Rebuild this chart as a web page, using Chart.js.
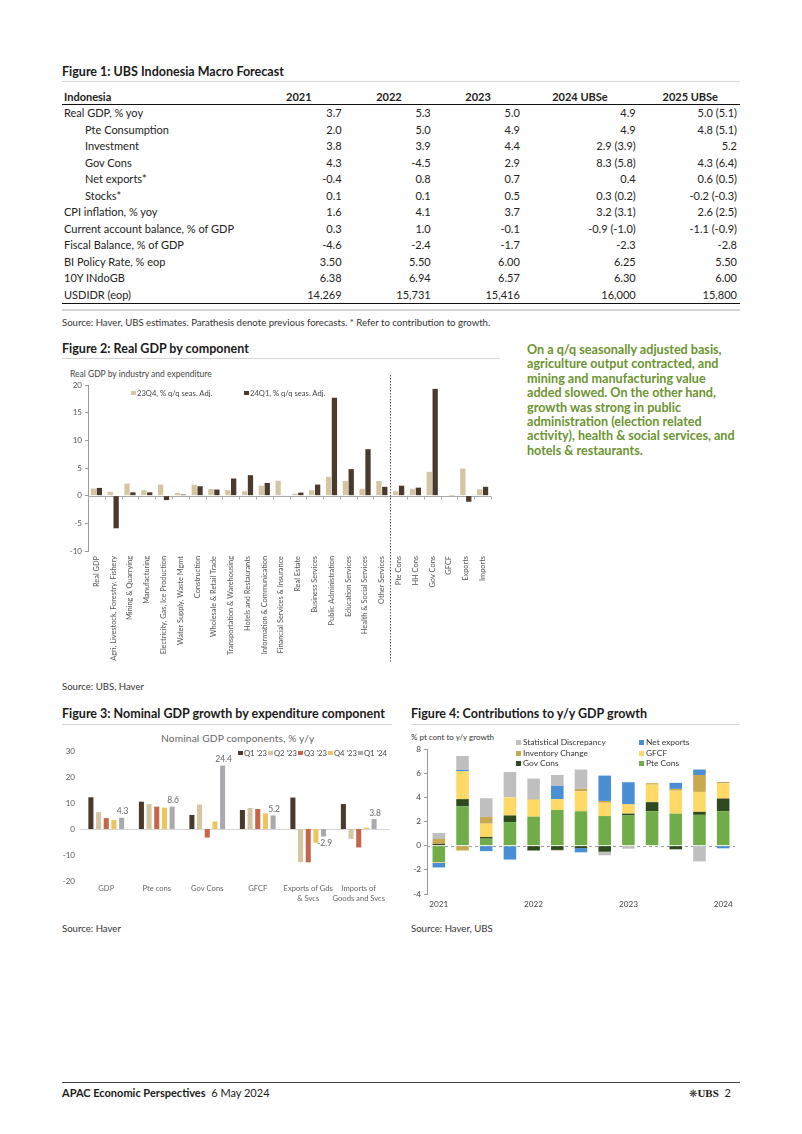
<!DOCTYPE html>
<html>
<head>
<meta charset="utf-8">
<script src="https://cdn.jsdelivr.net/npm/chart.js@4.4.1/dist/chart.umd.min.js"></script>
<style>
  html, body { margin: 0; padding: 0; background: #fff; }
  body { width: 802px; height: 1134px; position: relative; overflow: hidden;
         font-family: Lato, 'Noto Sans', sans-serif; color: #1a1a1a; }
  .abs { position: absolute; white-space: nowrap; }
  .title { font-weight: bold; font-size: 12.5px; line-height: 14px; }
  .rule { position: absolute; height: 0; border-top: 1.5px solid #d4d4d4; }
  .src { font-size: 9.6px; line-height: 11px; color: #333; }
  .sub { font-size: 8.5px; line-height: 10px; color: #444; }
  .leg { font-size: 7.6px; line-height: 9px; color: #444; }
  .leg i { display: inline-block; width: 4.5px; height: 4.5px; margin-right: 1.5px; vertical-align: 1px; }
  canvas { position: absolute; }
  #tbl { position: absolute; left: 62px; top: 89px; width: 678px; border-collapse: collapse;
         font-size: 11px; color: #222; }
  #tbl td, #tbl th { padding: 0; white-space: nowrap; }
  #tbl th { height: 15px; line-height: 15px; font-weight: bold; text-align: right; border-bottom: 1.6px solid #111; }
  #tbl td { height: 16.5px; line-height: 16.5px; text-align: right; }
  #tbl tr:last-child td { border-bottom: 1.6px solid #111; }
  #tbl th:first-child, #tbl td:first-child { text-align: left; padding-left: 2px; }
  .note { position: absolute; left: 527px; top: 343px; font-size: 12.6px; line-height: 14.4px;
          font-weight: bold; color: #6b9430; white-space: nowrap; }
</style>
</head>
<body>

<!-- ---------- Figure 1: table ---------- -->
<div class="abs title" style="left:62px;top:65px;">Figure 1: UBS Indonesia Macro Forecast</div>
<div class="rule" style="left:62px;top:81px;width:678px;"></div>
<table id="tbl"></table>
<div class="rule" style="left:62px;top:309px;width:678px;border-top-width:2px;"></div>
<div class="abs src" style="left:62px;top:317px;">Source: Haver, UBS estimates. Parathesis denote previous forecasts. * Refer to contribution to growth.</div>

<!-- ---------- Figure 2 ---------- -->
<div class="abs title" style="left:62px;top:342px;">Figure 2: Real GDP by component</div>
<div class="rule" style="left:62px;top:358px;width:438px;"></div>
<div class="abs sub" style="left:70px;top:369px;">Real GDP by industry and expenditure</div>
<canvas id="fig2" width="445" height="300" style="left:60px;top:370px;"></canvas>
<div id="leg2"></div>
<div class="abs src" style="left:62px;top:681px;">Source: UBS, Haver</div>

<div class="note">On a q/q seasonally adjusted basis,<br>agriculture output contracted, and<br>mining and manufacturing value<br>added slowed. On the other hand,<br>growth was strong in public<br>administration (election related<br>activity), health &amp; social services, and<br>hotels &amp; restaurants.</div>

<!-- ---------- Figure 3 ---------- -->
<div class="abs title" style="left:62px;top:707px;">Figure 3: Nominal GDP growth by expenditure component</div>
<div class="rule" style="left:62px;top:724px;width:330px;"></div>
<div class="abs sub" style="left:161px;top:732px;font-size:10.2px;line-height:12px;letter-spacing:0.15px;color:#666;">Nominal GDP components, % y/y</div>
<canvas id="fig3" width="335" height="175" style="left:60px;top:735px;"></canvas>
<div id="leg3"></div>
<div class="abs src" style="left:62px;top:923px;">Source: Haver</div>

<!-- ---------- Figure 4 ---------- -->
<div class="abs title" style="left:411px;top:707px;">Figure 4: Contributions to y/y GDP growth</div>
<div class="rule" style="left:411px;top:724px;width:329px;"></div>
<div class="abs sub" style="left:411px;top:732px;font-size:8px;color:#333;">% pt cont to y/y growth</div>
<canvas id="fig4" width="335" height="180" style="left:405px;top:735px;"></canvas>
<div id="leg4"></div>
<div class="abs src" style="left:411px;top:923px;">Source: Haver, UBS</div>

<!-- ---------- footer ---------- -->
<div style="position:absolute;left:62px;top:1082px;width:678px;border-top:1px solid #444;"></div>
<div class="abs" style="left:62px;top:1086px;font-size:11px;line-height:14px;"><b>APAC Economic Perspectives</b>&nbsp; 6 May 2024</div>
<div class="abs" style="left:689px;top:1086px;font-size:11px;line-height:14px;"><span style="font-family:'DejaVu Sans';font-size:10px;color:#333;">❋</span><span style="font-family:'Liberation Serif';font-weight:bold;">UBS</span>&nbsp; 2</div>

<script>
// --- TABLE DATA (Figure 1) ---
const tableHeaders = ['Indonesia', '2021', '2022', '2023', '2024 UBSe', '2025 UBSe'];
const tableLabels = ['Real GDP, % yoy', 'Pte Consumption', 'Investment', 'Gov Cons', 'Net exports*', 'Stocks*',
  'CPI inflation, % yoy', 'Current account balance, % of GDP', 'Fiscal Balance, % of GDP',
  'BI Policy Rate, % eop', '10Y INdoGB', 'USDIDR (eop)'];
const tableIndent = [0, 1, 1, 1, 1, 1, 0, 0, 0, 0, 0, 0];
const col2021 = ['3.7', '2.0', '3.8', '4.3', '-0.4', '0.1', '1.6', '0.3', '-4.6', '3.50', '6.38', '14,269'];
const col2022 = ['5.3', '5.0', '3.9', '-4.5', '0.8', '0.1', '4.1', '1.0', '-2.4', '5.50', '6.94', '15,731'];
const col2023 = ['5.0', '4.9', '4.4', '2.9', '0.7', '0.5', '3.7', '-0.1', '-1.7', '6.00', '6.57', '15,416'];
const col2024 = ['4.9', '4.9', '2.9 (3.9)', '8.3 (5.8)', '0.4', '0.3 (0.2)', '3.2 (3.1)', '-0.9 (-1.0)', '-2.3', '6.25', '6.30', '16,000'];
const col2025 = ['5.0 (5.1)', '4.8 (5.1)', '5.2', '4.3 (6.4)', '0.6 (0.5)', '-0.2 (-0.3)', '2.6 (2.5)', '-1.1 (-0.9)', '-2.8', '5.50', '6.00', '15,800'];

// --- FIGURE 2 DATA ---
const fig2Categories = ['Real GDP', 'Agri, Livestock, Forestry, Fishery', 'Mining & Quarrying', 'Manufacturing',
  'Electricity, Gas, Ice Production', 'Water Supply, Waste Mgmt', 'Construction', 'Wholesale & Retail Trade',
  'Transportation & Warehousing', 'Hotels and Restaurants', 'Information & Communication',
  'Financial Services & Insurance', 'Real Estate', 'Business Services', 'Public Administration',
  'Education Services', 'Health & Social Services', 'Other Services',
  'Pte Cons', 'HH Cons', 'Gov Cons', 'GFCF', 'Exports', 'Imports'];
const fig2Names = ['23Q4, % q/q seas. Adj.', '24Q1, % q/q seas. Adj.'];
const fig2Q423 = [1.3, 0.7, 2.2, 1.0, 2.0, 0.5, 2.0, 1.2, 1.0, 0.8, 1.8, 2.7, 0.35, 1.0, 3.4, 2.65, 1.25, 2.65, 0.8, 1.25, 4.3, 0.1, 4.9, 1.15];
const fig2Q124 = [1.4, -5.9, 0.6, 0.6, -0.8, 0.2, 1.7, 1.1, 3.1, 3.7, 2.3, 0.1, 0.55, 2.0, 17.7, 4.8, 8.4, 1.6, 1.8, 1.45, 19.3, 0.05, -1.1, 1.6];
const fig2Colors = ['#d6c5a2', '#4b3a2b'];

// --- FIGURE 3 DATA ---
const fig3Categories = ['GDP', 'Pte cons', 'Gov Cons', 'GFCF', ['Exports of Gds', '& Svcs'], ['Imports of', 'Goods and Svcs']];
const fig3Names = ["Q1 '23", "Q2 '23", "Q3 '23", "Q4 '23", "Q1 '24"];
const fig3Q123 = [12.2, 10.5, 5.4, 7.3, 12.1, 9.6];
const fig3Q223 = [6.5, 9.6, 9.4, 8.1, -12.8, -3.8];
const fig3Q323 = [4.2, 8.6, -3.3, 7.7, -12.8, -7.1];
const fig3Q423 = [3.5, 8.2, 2.9, 6.0, -5.3, 0.5];
const fig3Q124 = [4.3, 8.6, 24.4, 5.2, -2.9, 3.8];
const fig3Colors = ['#4b3a2b', '#d6c5a2', '#c5654a', '#ecc55e', '#a9aab0'];

// --- FIGURE 4 DATA ---
const fig4Quarters = ['2021 Q1', '2021 Q2', '2021 Q3', '2021 Q4', '2022 Q1', '2022 Q2', '2022 Q3', '2022 Q4',
  '2023 Q1', '2023 Q2', '2023 Q3', '2023 Q4', '2024 Q1'];
const fig4Names = ['Pte Cons', 'Gov Cons', 'GFCF', 'Inventory Change', 'Net exports', 'Statistical Discrepancy'];
const fig4Pte  = [-1.35, 3.25, 0.58, 1.95, 2.4, 2.95, 2.85, 2.45, 2.5, 2.85, 2.65, 2.55, 2.85];
const fig4Gov  = [0.15, 0.6, 0.14, 0.55, -0.4, -0.35, -0.2, -0.5, 0.15, 0.75, -0.3, 0.25, 1.05];
const fig4Gfcf = [-0.05, 2.3, 1.1, 1.5, 1.4, 0.9, 1.65, 1.1, 0.75, 1.45, 1.9, 1.65, 1.25];
const fig4Inv  = [0.4, -0.4, 0.55, -0.05, 0.05, -0.05, 0.2, 0.15, 0.05, 0.12, 0.15, 1.4, 0.12];
const fig4Net  = [-0.4, 0.12, -0.45, -1.1, 0, 1.1, -0.35, 2.1, 1.8, 0, 0.5, 0.45, -0.22];
const fig4Stat = [0.5, 1.15, 1.55, 2.1, 1.7, 0.9, 1.6, -0.3, -0.25, 0, 0, -1.3, 0];
const fig4Colors = ['#70ac48', '#2d4a1e', '#ffd966', '#c9a94f', '#4a8fd6', '#bfbfbf'];

// --- BUILD TABLE ---
const tbl = document.getElementById('tbl');
const headPad = [0, 30, 29, 29, 28, 22];
const colWidths = ['188px', '100px', '87px', '87px', '113px', '103px'];
let html = '<tr>' + tableHeaders.map((h, i) =>
  `<th style="width:${colWidths[i]};padding-right:${headPad[i]}px">${h}</th>`).join('') + '</tr>';
const cols = [col2021, col2022, col2023, col2024, col2025];
tableLabels.forEach((label, r) => {
  html += `<tr><td style="padding-left:${tableIndent[r] ? 23 : 2}px">${label}</td>` +
    cols.map((c, ci) => `<td style="padding-right:${ci === 4 ? 3 : 0}px">${c[r]}</td>`).join('') + '</tr>';
});
tbl.innerHTML = html;

// --- HTML LEGENDS ---
function legendItem(name, color, left, top) {
  return `<div class="abs leg" style="left:${left}px;top:${top}px"><i style="background:${color}"></i>${name}</div>`;
}
document.getElementById('leg2').innerHTML =
  legendItem(fig2Names[0], fig2Colors[0], 131, 389) + legendItem(fig2Names[1], fig2Colors[1], 244, 389);
document.getElementById('leg3').innerHTML =
  fig3Names.map((n, i) => legendItem(n, fig3Colors[i], 238 + i * 30, 749)).join('');
const leg4Order = [5, 4, 3, 2, 1, 0];
document.getElementById('leg4').innerHTML = leg4Order.map((d, k) =>
  `<div class="abs" style="left:${516 + (k % 2) * 123}px;top:${737 + Math.floor(k / 2) * 10.5}px;font-size:8.4px;line-height:10px;color:#333;">` +
  `<i style="display:inline-block;width:5px;height:5px;margin-right:2px;background:${fig4Colors[d]}"></i>${fig4Names[d]}</div>`).join('');

// --- CHART DEFAULTS ---
Chart.defaults.font.family = 'Lato, "Noto Sans", sans-serif';
Chart.defaults.animation = false;
Chart.defaults.plugins.legend.display = false;
Chart.defaults.plugins.tooltip.enabled = false;

// zero line (optionally dashed / with small ticks) and optional dotted divider
const zeroLine = {
  id: 'zeroLine',
  beforeDatasetsDraw(chart, args, opts) {
    const { ctx, chartArea, scales: { x, y } } = chart;
    const y0 = Math.round(y.getPixelForValue(0)) + 0.5;
    ctx.save();
    ctx.strokeStyle = opts.color || '#bbb';
    ctx.lineWidth = 1;
    if (opts.dash) ctx.setLineDash(opts.dash);
    ctx.beginPath();
    ctx.moveTo(chartArea.left - (opts.extendLeft || 0), y0);
    ctx.lineTo(chartArea.right + (opts.extendRight || 0), y0);
    ctx.stroke();
    ctx.setLineDash([]);
    if (opts.ticks) {
      ctx.beginPath();
      for (let i = 0; i <= x.ticks.length; i++) {
        const px = Math.round(x.getPixelForValue(i - 0.5)) + 0.5;
        ctx.moveTo(px, y0);
        ctx.lineTo(px, y0 + 3);
      }
      ctx.stroke();
    }
    ctx.restore();
  },
  afterDatasetsDraw(chart, args, opts) {
    if (opts.dividerAfter === undefined) return;
    const { ctx, chartArea, scales: { x } } = chart;
    const px = Math.round(x.getPixelForValue(opts.dividerAfter + 0.5)) + 0.5;
    ctx.save();
    ctx.strokeStyle = '#555';
    ctx.setLineDash([1.5, 1.5]);
    ctx.beginPath();
    ctx.moveTo(px, chartArea.top - 10);
    ctx.lineTo(px, chart.height - 8);
    ctx.stroke();
    ctx.restore();
  }
};

// value labels on one dataset
const valueLabels = {
  id: 'valueLabels',
  afterDatasetsDraw(chart, args, opts) {
    if (opts.dataset === undefined) return;
    const { ctx } = chart;
    const meta = chart.getDatasetMeta(opts.dataset);
    const values = chart.data.datasets[opts.dataset].data;
    ctx.save();
    ctx.font = '8.5px Lato, "Noto Sans", sans-serif';
    ctx.fillStyle = '#666';
    ctx.textAlign = 'center';
    meta.data.forEach((bar, i) => {
      const v = values[i];
      if (v >= 0) { ctx.textBaseline = 'bottom'; ctx.fillText(v.toFixed(1), bar.x + 1, bar.y - 2); }
      else { ctx.textBaseline = 'top'; ctx.fillText(v.toFixed(1), bar.x + 1, bar.y + 2); }
    });
    ctx.restore();
  }
};

// --- FIGURE 2 CHART ---
new Chart(document.getElementById('fig2'), {
  type: 'bar',
  data: {
    labels: fig2Categories,
    datasets: [
      { label: fig2Names[0], data: fig2Q423, backgroundColor: fig2Colors[0] },
      { label: fig2Names[1], data: fig2Q124, backgroundColor: fig2Colors[1] }
    ]
  },
  options: {
    responsive: false,
    categoryPercentage: 0.7,
    barPercentage: 0.9,
    layout: { padding: { top: 15, right: 14, left: 0, bottom: 0 } },
    plugins: { zeroLine: { color: '#aaa', ticks: true, dividerAfter: 17 } },
    scales: {
      x: {
        grid: { display: false, drawTicks: false },
        border: { display: false },
        ticks: { autoSkip: false, minRotation: 90, maxRotation: 90, color: '#555', font: { size: 7.4 }, padding: 5 },
        afterFit(s) { s.height = 119; }
      },
      y: {
        min: -10, max: 20,
        ticks: { stepSize: 5, color: '#555', font: { size: 8 }, padding: 3 },
        grid: { drawOnChartArea: false, tickLength: 3, color: '#999' },
        border: { display: true, color: '#999' },
        afterFit(s) { s.width = 28; }
      }
    }
  },
  plugins: [zeroLine]
});

// --- FIGURE 3 CHART ---
const fig3Series = [fig3Q123, fig3Q223, fig3Q323, fig3Q423, fig3Q124];
new Chart(document.getElementById('fig3'), {
  type: 'bar',
  data: {
    labels: fig3Categories,
    datasets: fig3Series.map((d, i) => ({ label: fig3Names[i], data: d, backgroundColor: fig3Colors[i] }))
  },
  options: {
    responsive: false,
    categoryPercentage: 0.76,
    barPercentage: 0.66,
    layout: { padding: { top: 16, right: 11, left: 0, bottom: 0 } },
    plugins: {
      zeroLine: { color: '#d6d6d6', extendLeft: 1, extendRight: 6 },
      valueLabels: { dataset: 4 }
    },
    scales: {
      x: {
        grid: { display: false, drawTicks: false },
        border: { display: false },
        ticks: { autoSkip: false, maxRotation: 0, color: '#666', font: { size: 7.6, lineHeight: 1.3 }, padding: 3 },
        afterFit(s) { s.height = 29; }
      },
      y: {
        min: -20, max: 30,
        ticks: { stepSize: 10, color: '#555', font: { size: 8 }, padding: 6 },
        grid: { display: false, drawTicks: false },
        border: { display: false },
        afterFit(s) { s.width = 21; }
      }
    }
  },
  plugins: [zeroLine, valueLabels]
});

// --- FIGURE 4 CHART ---
const fig4Series = [fig4Pte, fig4Gov, fig4Gfcf, fig4Inv, fig4Net, fig4Stat];
new Chart(document.getElementById('fig4'), {
  type: 'bar',
  data: {
    labels: fig4Quarters,
    datasets: fig4Series.map((d, i) => ({ label: fig4Names[i], data: d, backgroundColor: fig4Colors[i] }))
  },
  options: {
    responsive: false,
    categoryPercentage: 0.53,
    barPercentage: 1,
    layout: { padding: { top: 14, right: 5, left: 0, bottom: 0 } },
    plugins: { zeroLine: { color: '#999', dash: [3, 3] } },
    scales: {
      x: {
        stacked: true,
        grid: { display: false, drawTicks: false },
        border: { display: false },
        ticks: {
          autoSkip: false, maxRotation: 0, color: '#444', font: { size: 8.2 }, padding: 5,
          callback(value) {
            const q = fig4Quarters[value];
            return q.endsWith('Q1') ? q.slice(0, 4) : '';
          }
        },
        afterFit(s) { s.height = 21; }
      },
      y: {
        stacked: true,
        min: -4, max: 8,
        ticks: { stepSize: 2, color: '#444', font: { size: 8.2 }, padding: 3 },
        grid: { drawOnChartArea: false, tickLength: 3, color: '#999' },
        border: { display: true, color: '#999' },
        afterFit(s) { s.width = 22; }
      }
    }
  },
  plugins: [zeroLine]
});
</script>
</body>
</html>
